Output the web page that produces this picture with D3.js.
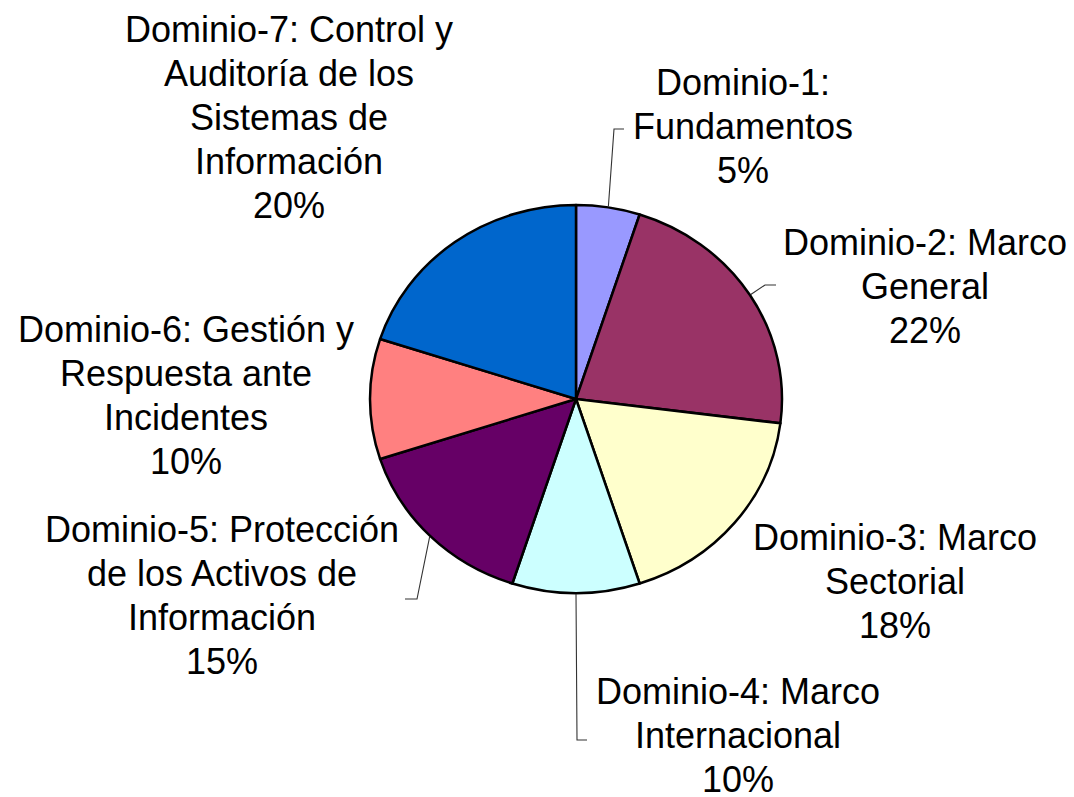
<!DOCTYPE html>
<html>
<head>
<meta charset="utf-8">
<script src="https://cdn.jsdelivr.net/npm/d3@7/dist/d3.min.js"></script>
<style>
  html, body { margin: 0; padding: 0; background: #ffffff; }
  svg { display: block; }
</style>
</head>
<body>
<svg id="chart" width="1074" height="797"></svg>
<script>
// ---- data ----
const categories = [
  "Dominio-1: Fundamentos",
  "Dominio-2: Marco General",
  "Dominio-3: Marco Sectorial",
  "Dominio-4: Marco Internacional",
  "Dominio-5: Protección de los Activos de Información",
  "Dominio-6: Gestión y Respuesta ante Incidentes",
  "Dominio-7: Control y Auditoría de los Sistemas de Información"
];
const values = [5, 22, 18, 10, 15, 10, 20];
// label text wrapped as in the reference
const labelLines = [
  ["Dominio-1:", "Fundamentos"],
  ["Dominio-2: Marco", "General"],
  ["Dominio-3: Marco", "Sectorial"],
  ["Dominio-4: Marco", "Internacional"],
  ["Dominio-5: Protección", "de los Activos de", "Información"],
  ["Dominio-6: Gestión y", "Respuesta ante", "Incidentes"],
  ["Dominio-7: Control y", "Auditoría de los", "Sistemas de", "Información"]
];
const colors = ["#9999FF", "#993366", "#FFFFCC", "#CCFFFF", "#660066", "#FF8080", "#0066CC"];

// ---- layout (not data) ----
const cx = 576, cy = 399, rx = 206, ry = 194;
const lineH = 44;
// label block: center x, first baseline y
const labelPos = [
  {x: 743, y: 95},
  {x: 925, y: 255},
  {x: 895, y: 550},
  {x: 738, y: 704},
  {x: 222, y: 542},
  {x: 186, y: 342},
  {x: 289, y: 42}
];
// leader line bend/end points (null = no leader line)
const leaders = [
  [[614, 129], [624, 129]],
  [[765, 285], [776, 285]],
  null,
  [[577, 740], [587, 740]],
  [[417, 599], [405, 599]],
  null,
  null
];

const svg = d3.select("#chart");

const pie = d3.pie().sort(null).value(d => d)(values);
const arc = d3.arc().innerRadius(0).outerRadius(rx);

const g = svg.append("g")
  .attr("transform", `translate(${cx},${cy}) scale(1,${ry / rx})`);

g.selectAll("path.slice")
  .data(pie)
  .enter().append("path")
  .attr("class", "slice")
  .attr("d", arc)
  .attr("fill", (d, i) => colors[i])
  .attr("stroke", "#000")
  .attr("stroke-width", 2.5)
  .attr("stroke-linejoin", "round")
  .attr("vector-effect", "non-scaling-stroke");

// leader lines
pie.forEach((d, i) => {
  if (!leaders[i]) return;
  const a = (d.startAngle + d.endAngle) / 2;
  const start = [cx + (rx + 1) * Math.sin(a), cy - (ry + 1) * Math.cos(a)];
  const pts = [start].concat(leaders[i]);
  svg.append("path")
    .attr("d", d3.line()(pts))
    .attr("fill", "none")
    .attr("stroke", "#333")
    .attr("stroke-width", 1.1);
});

// labels
const fmt = d3.format(".0%");
const total = d3.sum(values);
labelLines.forEach((lines, i) => {
  const all = lines.concat([fmt(values[i] / total)]);
  const t = svg.append("text")
    .attr("x", labelPos[i].x)
    .attr("y", labelPos[i].y)
    .attr("text-anchor", "middle")
    .attr("font-family", "'Liberation Sans', Arial, sans-serif")
    .attr("font-size", 36)
    .attr("fill", "#000");
  all.forEach((s, k) => {
    t.append("tspan")
      .attr("x", labelPos[i].x)
      .attr("y", labelPos[i].y + k * lineH)
      .text(s);
  });
});
</script>
</body>
</html>
